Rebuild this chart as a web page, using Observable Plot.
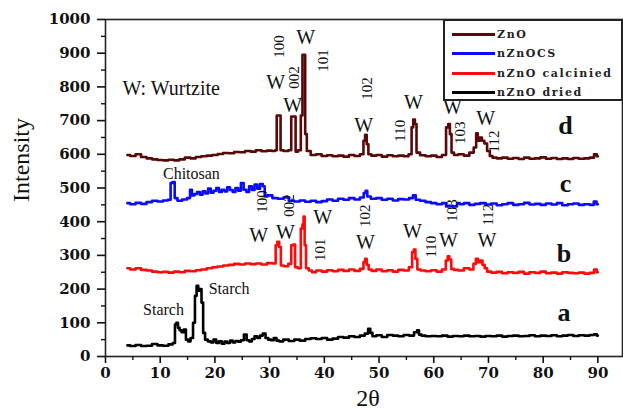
<!DOCTYPE html>
<html><head><meta charset="utf-8">
<script src="https://cdn.jsdelivr.net/npm/d3@7"></script>
<script src="https://cdn.jsdelivr.net/npm/@observablehq/plot@0.6"></script>
<style>
body{margin:0;background:#fff;}
#wrap{position:relative;width:623px;height:414px;}
#legend{position:absolute;left:443px;top:19px;width:176px;height:78px;border:2px solid #222;background:#fff;font-family:"DejaVu Serif";font-weight:bold;font-size:11px;color:#222;}
.row{position:absolute;left:7px;height:14px;display:flex;align-items:center;letter-spacing:1.6px;white-space:nowrap;}
.sw{width:43px;height:3px;margin-right:2px;}
g[aria-label="x-axis tick label"] text, g[aria-label="y-axis tick label"] text{font-weight:bold;}
</style></head><body><div id="wrap"></div>
<script>
// ---- data ----
const seriesNames = ["ZnO", "nZnOCS", "nZnO calcinied", "nZnO dried"];
const seriesColors = ["#5a0707", "#0a0aff", "#ff0a0a", "#000000"];

const znoX = [4,5,6,7,8,9,10,11,12,13,14,15,16,17,18,19,20,21,22,23,24,25,26,27,28,29,30,30.8,31.2,31.4,31.9,32.1,33,33.8,34.1,34.6,34.9,35.5,35.9,36.1,36.4,36.6,37,38,39,40,41,42,43,44,45,46,47,47.3,47.6,47.9,48.2,49,50,51,52,53,54,55,55.8,56.1,56.4,56.7,57,58,59,60,61,62,62.5,62.8,63.1,63.4,64,65,66,67,67.6,67.9,68.2,68.6,69,69.5,70,70.5,71,72,73,74,75,76,77,78,79,80,81,82,83,84,85,86,87,88,89,89.6,90];
const znoY = [598,595,600,592,588,585,583,582,584,582,585,590,588,592,594,596,598,601,604,603,607,606,610,608,612,609,611,610,612,715,715,612,610,612,712,712,608,612,715,895,895,660,610,598,600,595,597,594,596,593,598,595,600,640,658,630,600,596,598,593,597,594,596,594,600,680,703,690,605,597,594,596,592,598,680,690,660,605,598,600,596,605,620,662,640,650,640,632,610,595,590,588,590,587,589,586,590,587,588,591,587,589,586,588,586,589,587,588,590,600,594];

const csX = [4,5,6,7,8,9,10,11,11.8,12.0,12.5,12.8,13.5,14.5,15.3,15.6,16,16.5,17,17.5,18,18.5,19,19.5,20,20.5,21,21.5,22,22.5,23,23.5,24,24.5,25,25.5,26,26.5,27,27.5,28,28.5,29,29.2,30,31,32,33,34,35,36,37,38,39,40,41,42,43,44,45,46,47,47.4,47.7,48,49,50,51,52,53,54,55,56,56.4,57,58,59,60,61,62,62.5,63,64,64.5,65,66,67,68,69,70,71,72,73,74,75,76,77,78,79,80,81,82,83,84,85,86,87,88,89,89.5,90];
const csY = [455,452,456,453,458,462,460,463,465,515,518,470,462,466,470,495,478,482,488,480,490,484,498,486,492,500,488,495,490,502,494,488,500,492,515,495,488,505,494,510,498,512,505,475,478,470,468,472,462,460,463,459,462,458,461,466,462,468,465,470,466,472,485,492,475,468,470,465,468,463,467,466,470,478,465,462,458,455,452,455,445,447,445,455,452,455,450,453,455,451,454,449,452,455,450,452,456,451,453,450,454,451,455,449,452,454,450,452,450,460,452];

const calX = [4,5,6,7,8,9,10,11,12,13,14,15,16,17,18,19,20,21,22,23,24,25,26,27,28,29,30,31,31.2,31.6,31.9,32.2,33,33.8,34.1,34.5,34.8,35.5,35.9,36.1,36.3,36.5,36.8,37.5,38,39,40,41,42,43,44,45,46,47,47.3,47.6,47.9,48.3,49,50,51,52,53,54,55,55.9,56.2,56.5,56.8,57.2,58,59,60,61,62,62.4,62.7,63,63.4,64,65,66,67,67.5,67.9,68.3,68.7,69.1,69.5,70,71,72,73,74,75,76,77,78,79,80,81,82,83,84,85,86,87,88,89,89.6,90];
const calY = [262,258,262,257,255,252,250,251,249,252,250,254,253,256,258,262,265,267,270,272,275,273,276,274,276,273,277,276,330,340,325,270,268,275,330,332,265,262,380,392,415,330,262,255,250,255,252,256,253,257,254,258,254,260,280,290,272,258,254,258,253,256,252,257,255,265,310,317,290,258,255,253,256,252,258,285,297,288,260,257,255,262,258,275,290,280,285,272,262,252,249,251,247,250,248,251,246,250,248,252,247,249,246,250,248,247,249,246,248,258,250];

const driedX = [4,5,6,7,8,9,10,11,12,12.6,12.8,13.1,13.4,13.7,14.1,14.5,14.9,15.3,15.8,16.2,16.5,16.8,17.1,17.4,17.7,18,18.4,19,19.5,20,20.5,21,21.5,22,22.5,23,23.5,24,24.5,25,25.6,26,26.5,27,27.5,28,28.5,29,29.5,30,30.5,31,31.5,32,33,34,35,36,37,38,39,40,41,42,43,44,45,46,47,47.8,48.2,48.6,49,50,51,52,53,54,55,56,56.8,57.1,57.5,58,59,60,61,62,63,64,65,66,67,68,69,70,71,72,73,74,75,76,77,78,79,80,81,82,83,84,85,86,87,88,89,89.6,90];
const driedY = [33,31,34,31,32,37,33,32,36,40,95,100,85,78,72,80,50,45,55,100,180,210,195,200,160,70,50,45,42,50,40,45,38,44,40,47,42,46,44,48,65,48,45,52,60,55,62,68,55,50,48,55,47,45,50,46,50,47,52,54,52,55,50,53,58,56,60,58,62,68,82,70,60,63,58,64,62,60,64,62,72,78,65,62,60,61,60,62,59,61,60,62,60,61,59,61,60,62,59,61,62,60,61,63,60,62,61,63,60,62,64,61,63,62,64,66,62];

const xTicks = [0,10,20,30,40,50,60,70,80,90];
const xMinor = [5,15,25,35,45,55,65,75,85];
const yTicks = [0,100,200,300,400,500,600,700,800,900,1000];
const yMinor = [50,150,250,350,450,550,650,750,850,950];

// annotations (data coordinates)
const wX = [31.1,34.2,36.6,47.2,56.3,63.4,69.5, 28,32.9,39.7,47.5,56.1,62.7,69.7];
const wY = [813,745,947,685,754,739,706, 359,368,412,338,371,344,344];
const hklText = ["100","002","101","102","110","103","112", "100","002","101","102","110","103","112"];
const hklX = [31.8,34.4,39.7,47.9,53.9,64.9,71, 28.7,33.5,39.3,47.5,59.6,63.4,70];
const hklY = [920,828,878,795,670,664,638, 460,448,317,418,326,433,421];
const sampleText = ["d","c","b","a"];
const sampleX = [84.1,84.1,83.8,83.8];
const sampleY = [685,513,305,131];
const noteText = ["Chitosan","Starch","Starch"];
const noteX = [15.7,10.6,22.6];
const noteY = [543,137,201];

// ---- build ----
const build = (xs, ys, name) => xs.map((x, i) => ({x, y: ys[i], name}));
const rows = [
  ...build(znoX, znoY, seriesNames[0]),
  ...build(csX, csY, seriesNames[1]),
  ...build(calX, calY, seriesNames[2]),
  ...build(driedX, driedY, seriesNames[3])
];
const colorOf = Object.fromEntries(seriesNames.map((n, i) => [n, seriesColors[i]]));

const W = wX.map((x, i) => ({x, y: wY[i]}));
const HKL = hklText.map((t, i) => ({t, x: hklX[i], y: hklY[i]}));
const S = sampleText.map((t, i) => ({t, x: sampleX[i], y: sampleY[i]}));
const N = noteText.map((t, i) => ({t, x: noteX[i], y: noteY[i]}));

const serif = "Liberation Serif, Times New Roman, serif";
const tickFont = "DejaVu Serif, serif";

const chart = Plot.plot({
  width: 623, height: 414,
  marginLeft: 105, marginRight: 1, marginTop: 19, marginBottom: 58,
  x: {domain: [0, 94.5]},
  y: {domain: [0, 1000]},
  style: {fontFamily: serif, background: "white", color: "#111"},
  marks: [
    Plot.frame({stroke: "#222", strokeWidth: 1.6}),
    Plot.axisX({ticks: xTicks, tickFormat: d3.format("d"), tickSize: 7, tickPadding: 4, fontSize: 15, fontWeight: "bold", fontFamily: tickFont, label: null, strokeWidth: 1.6}),
    Plot.axisX({ticks: xMinor, tickSize: 4, tickFormat: () => "", label: null, strokeWidth: 1.4}),
    Plot.axisY({ticks: yTicks, tickFormat: d3.format("d"), tickSize: 8, tickPadding: 7, fontSize: 15, fontWeight: "bold", fontFamily: tickFont, label: null, strokeWidth: 1.6}),
    Plot.axisY({ticks: yMinor, tickSize: 4, tickFormat: () => "", label: null, strokeWidth: 1.4}),
    ...seriesNames.map(n => Plot.line(rows.filter(r => r.name === n), {x: "x", y: "y", stroke: colorOf[n], strokeWidth: 2.6, curve: "step"})),
    Plot.text(W, {x: "x", y: "y", text: () => "W", fontSize: 20, fontFamily: serif, fill: "#111"}),
    Plot.text(HKL, {x: "x", y: "y", text: "t", rotate: -90, fontSize: 15, fontFamily: serif, fill: "#111"}),
    Plot.text(S, {x: "x", y: "y", text: "t", fontSize: 26, fontWeight: "bold", fontFamily: serif, fill: "#111"}),
    Plot.text(N, {x: "x", y: "y", text: "t", fontSize: 16, fontFamily: serif, fill: "#111"}),
    Plot.text(["W: Wurtzite"], {x: 3.1, y: 795, text: d => d, textAnchor: "start", fontSize: 20, fontFamily: serif, fill: "#111"}),
    Plot.text(["Intensity"], {frameAnchor: "left", text: d => d, rotate: -90, dx: -84, dy: 14, fontSize: 24, fontFamily: serif, fill: "#111"}),
    Plot.text(["2θ"], {frameAnchor: "bottom", text: d => d, dx: 4, dy: 42, lineAnchor: "middle", fontSize: 24, fontFamily: serif, fill: "#111"})
  ]
});
const wrap = document.getElementById("wrap");
wrap.appendChild(chart);

const legend = document.createElement("div");
legend.id = "legend";
const tops = [6, 25, 45, 64];
seriesNames.forEach((n, i) => {
  const r = document.createElement("div");
  r.className = "row";
  r.style.top = tops[i] + "px";
  const sw = document.createElement("span");
  sw.className = "sw";
  sw.style.background = seriesColors[i];
  const t = document.createElement("span");
  t.textContent = n;
  r.appendChild(sw); r.appendChild(t);
  legend.appendChild(r);
});
wrap.appendChild(legend);
</script></body></html>
